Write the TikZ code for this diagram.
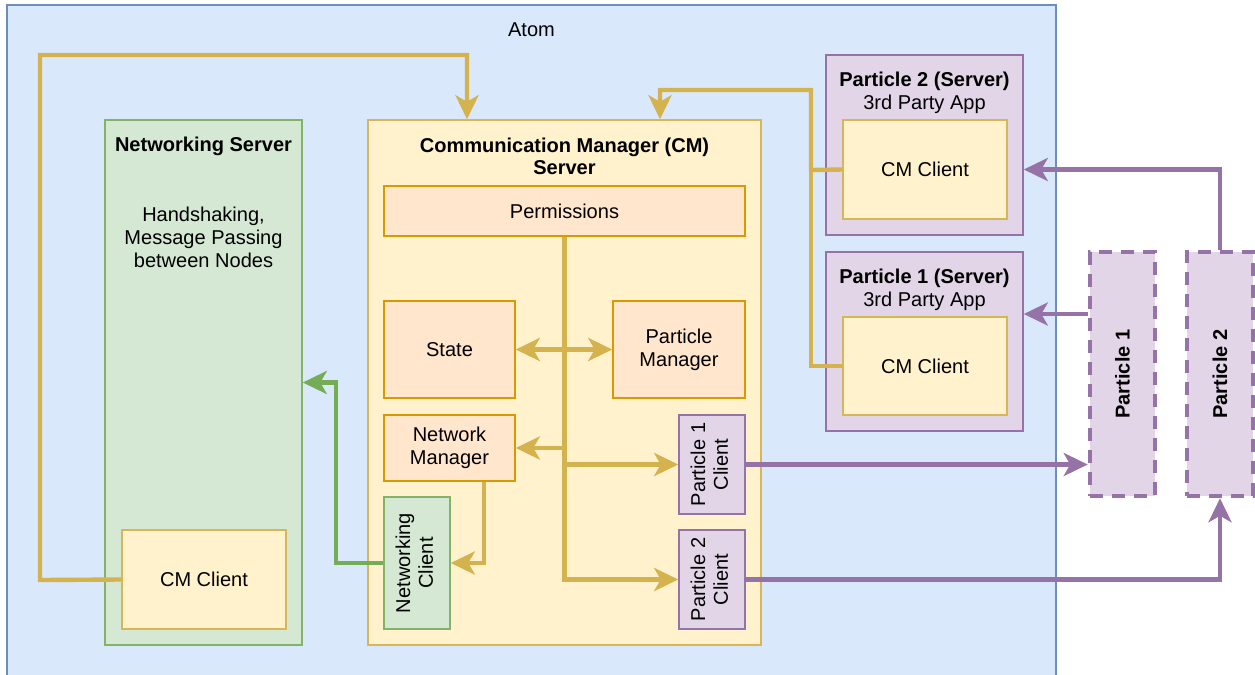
\documentclass[tikz,border=0pt]{standalone}
\usepackage{fontspec}
\setmainfont{Liberation Sans}
\usetikzlibrary{arrows.meta}
\definecolor{blueF}{HTML}{DAE8FC}
\definecolor{blueD}{HTML}{6C8EBF}
\definecolor{greenF}{HTML}{D5E8D4}
\definecolor{greenD}{HTML}{82B366}
\definecolor{greenL}{HTML}{74AD55}
\definecolor{yelF}{HTML}{FFF2CC}
\definecolor{yelD}{HTML}{D6B656}
\definecolor{oraF}{HTML}{FFE6CC}
\definecolor{oraD}{HTML}{D79B00}
\definecolor{purF}{HTML}{E1D5E7}
\definecolor{purD}{HTML}{9673A6}
\definecolor{goldL}{HTML}{D4B24E}
\newcommand\dfont{\fontsize{11.4}{13}\selectfont}
\tikzset{
  base/.style={draw, line width=0.9pt, inner sep=0pt, align=center, font=\dfont},
  atombox/.style={base, fill=blueF, draw=blueD},
  greenbox/.style={base, fill=greenF, draw=greenD},
  yelbox/.style={base, fill=yelF, draw=yelD},
  orabox/.style={base, fill=oraF, draw=oraD},
  purbox/.style={base, fill=purF, draw=purD},
  dashbox/.style={base, fill=purF, draw=purD, line width=2.6pt, dash pattern=on 0.26cm off 0.18cm},
  lbl/.style={anchor=center, align=center, font=\dfont},
  arr/.style={-{Stealth[length=0.48cm,width=0.46cm,inset=0.13cm]}},
  darr/.style={{Stealth[length=0.48cm,width=0.46cm,inset=0.13cm]}-{Stealth[length=0.48cm,width=0.46cm,inset=0.13cm]}},
  goldline/.style={draw=goldL, line width=2.5pt},
  purline/.style={draw=purD, line width=2.5pt},
  greenline/.style={draw=greenL, line width=2.5pt}
}
\begin{document}
\begin{tikzpicture}[x=0.02cm,y=-0.02cm]
\useasboundingbox (0,0) rectangle (1255,674);
% Atom
\node[atombox, minimum width=20.98cm, minimum height=13.46cm,
  label={[lbl, yshift=-0.5cm]north:Atom}] (atom) at (531.5,341.5) {};
% Networking server
\node[greenbox, minimum width=3.94cm, minimum height=10.5cm,
  label={[lbl, font=\dfont\bfseries, yshift=-0.54cm]north:Networking Server},
  label={[lbl, yshift=-2.36cm]north:{Handshaking,\\Message Passing\\between Nodes}}] (netsrv) at (203.5,382.5) {};
\node[yelbox, minimum width=3.28cm, minimum height=1.98cm] (cmcL) at (204,579.5) {CM Client};
% CM server
\node[yelbox, minimum width=7.86cm, minimum height=10.5cm,
  label={[lbl, font=\dfont\bfseries, yshift=-0.74cm]north:{Communication Manager (CM)\\Server}}] (cmsrv) at (564.5,382.5) {};
\node[orabox, minimum width=7.22cm, minimum height=1.0cm] (perm) at (564.5,211) {Permissions};
\node[orabox, minimum width=2.62cm, minimum height=1.94cm] (state) at (449.5,349.5) {State};
\node[orabox, minimum width=2.64cm, minimum height=1.94cm] (pm) at (679,349.5) {Particle\\Manager};
\node[orabox, minimum width=2.62cm, minimum height=1.32cm] (nm) at (449.5,448) {Network\\Manager};
\node[greenbox, minimum width=1.32cm, minimum height=2.64cm] (nc) at (417,563)
  {\rotatebox{90}{\begin{tabular}{@{}c@{}}Networking\\Client\end{tabular}}};
\node[purbox, minimum width=1.32cm, minimum height=1.98cm] (p1c) at (712,464.5)
  {\rotatebox{90}{\begin{tabular}{@{}c@{}}Particle 1\\Client\end{tabular}}};
\node[purbox, minimum width=1.32cm, minimum height=1.98cm] (p2c) at (712,579.5)
  {\rotatebox{90}{\begin{tabular}{@{}c@{}}Particle 2\\Client\end{tabular}}};
% Particle servers
\node[purbox, minimum width=3.94cm, minimum height=3.6cm,
  label={[lbl, yshift=-0.77cm]north:{{\bfseries Particle 2 (Server)}\\3rd Party App}}] (p2srv) at (924.5,145) {};
\node[yelbox, minimum width=3.28cm, minimum height=1.98cm] (cmc2) at (925,169.5) {CM Client};
\node[purbox, minimum width=3.94cm, minimum height=3.58cm,
  label={[lbl, yshift=-0.77cm]north:{{\bfseries Particle 1 (Server)}\\3rd Party App}}] (p1srv) at (924.5,341.5) {};
\node[yelbox, minimum width=3.28cm, minimum height=1.96cm] (cmc1) at (925,366) {CM Client};
% Particles
\node[dashbox, minimum width=1.3cm, minimum height=4.88cm] (part1) at (1122.5,374)
  {\rotatebox{90}{\bfseries Particle 1}};
\node[dashbox, minimum width=1.32cm, minimum height=4.88cm] (part2) at (1220,374)
  {\rotatebox{90}{\bfseries Particle 2}};
% Connectors
\coordinate (g1) at (40,580);
\coordinate (g2) at (40,55);
\coordinate (g3) at (467,55);
\draw[goldline, arr] (cmcL.west) -- (g1) -- (g2) -- (g3) -- (g3 |- cmsrv.north);
\coordinate (h1) at (811,170);
\coordinate (h2) at (811,90);
\coordinate (h3) at (660,90);
\draw[goldline, arr] (cmc2.west) -- (h1) -- (h2) -- (h3) -- (h3 |- cmsrv.north);
\draw[goldline] (cmc1.west) -- (h1 |- cmc1.west) -- (h1);
\draw[goldline, arr] (perm.south) |- (p2c.west);
\draw[goldline, arr] (perm.south |- p1c.west) -- (p1c.west);
\draw[goldline, arr] (perm.south |- nm.east) -- (nm.east);
\draw[goldline, darr] (state.east) -- (pm.west);
\draw[goldline, arr] ([xshift=0.69cm]nm.south) |- (nc.east);
\coordinate (k1) at (336,563);
\draw[greenline, arr] (nc.west) -- (k1) |- (netsrv.east);
\draw[purline, arr] (p1c.east) -- (part1.west |- p1c.east);
\draw[purline, arr] (p2c.east) -| (part2.south);
\draw[purline, arr] (part2.north) |- (p2srv.east |- cmc2.east);
\draw[purline, arr] ([yshift=1.2cm]part1.west) -- ([yshift=1.2cm]part1.west -| p1srv.east);
\end{tikzpicture}
\end{document}
